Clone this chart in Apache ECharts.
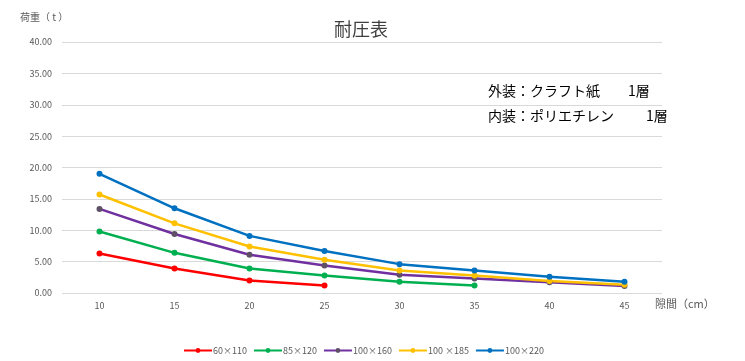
<!DOCTYPE html>
<html><head><meta charset="utf-8">
<script src="https://cdn.jsdelivr.net/npm/echarts@6/dist/echarts.min.js"></script>
<style>html,body{margin:0;padding:0;background:#fff}#c{width:745px;height:361px}</style>
</head><body><div id="c"></div>
<script>
const categories = ['10','15','20','25','30','35','40','45'];
const seriesNames = ['60×110','85×120','100×160','100 ×185','100×220'];
const s60x110 = [6.3, 3.9, 2.0, 1.2, null, null, null, null];
const s85x120 = [9.8, 6.4, 3.9, 2.8, 1.8, 1.2, null, null];
const s100x160 = [13.4, 9.4, 6.1, 4.4, 2.9, 2.3, 1.7, 1.1];
const s100x185 = [15.7, 11.1, 7.4, 5.3, 3.6, 2.8, 1.9, 1.3];
const s100x220 = [19.0, 13.5, 9.1, 6.7, 4.6, 3.6, 2.6, 1.8];
const colors = ['#FF0000','#00B050','#7030A0','#FFC000','#0070C0'];
const markerColors = ['#FF0000','#00B050','#5F5068','#FFC000','#0070C0'];
const dataSets = [s60x110, s85x120, s100x160, s100x185, s100x220];
const font = '"Noto Sans CJK JP", "Noto Sans", sans-serif';

const chart = echarts.init(document.getElementById('c'));
chart.setOption({
  animation: false,
  textStyle: {fontFamily: font},
  title: {text: '耐圧表', left: 329, top: 15, textStyle: {fontSize: 18, fontWeight: 'normal', color: '#404040', fontFamily: font}},
  grid: {left: 62, right: 83, top: 42, bottom: 68},
  legend: {bottom: 1, left: 178, itemWidth: 28, itemHeight: 6, itemGap: 6,
    textStyle: {fontSize: 9, color: '#595959', fontFamily: font, padding: [0,0,0,-4]},
    data: seriesNames},
  xAxis: {type: 'category', data: categories, boundaryGap: true,
    name: '隙間（cm）', nameLocation: 'end', nameGap: -7,
    nameTextStyle: {fontSize: 11, color: '#595959', verticalAlign: 'top', align: 'left', padding: [5,0,0,0]},
    axisLine: {show: false}, axisTick: {show: false},
    axisLabel: {fontSize: 9, color: '#595959', margin: 8}},
  yAxis: {type: 'value', min: 0, max: 40, interval: 5,
    axisLabel: {fontSize: 9, color: '#595959', margin: 10, formatter: v => v.toFixed(2)},
    axisLine: {show: false}, axisTick: {show: false},
    splitLine: {lineStyle: {color: '#D9D9D9', width: 1}}},
  graphic: [
    {type: 'text', left: 20, top: 12, style: {text: '荷重（ t ）', fontSize: 10, fill: '#595959', fontFamily: font}},
    {type: 'text', left: 488, top: 84, style: {text: '外装：クラフト紙', fontSize: 14, fill: '#000', fontFamily: font}},
    {type: 'text', left: 628, top: 84, style: {text: '1層', fontSize: 14, fill: '#000', fontFamily: font}},
    {type: 'text', left: 488, top: 109, style: {text: '内装：ポリエチレン', fontSize: 14, fill: '#000', fontFamily: font}},
    {type: 'text', left: 646, top: 109, style: {text: '1層', fontSize: 14, fill: '#000', fontFamily: font}}
  ],
  series: dataSets.map((d,i)=>({
    name: seriesNames[i], type: 'line', data: d, symbol: 'circle', symbolSize: 6,
    lineStyle: {color: colors[i], width: 2.5},
    itemStyle: {color: markerColors[i]},
    color: colors[i]
  }))
});
</script></body></html>
